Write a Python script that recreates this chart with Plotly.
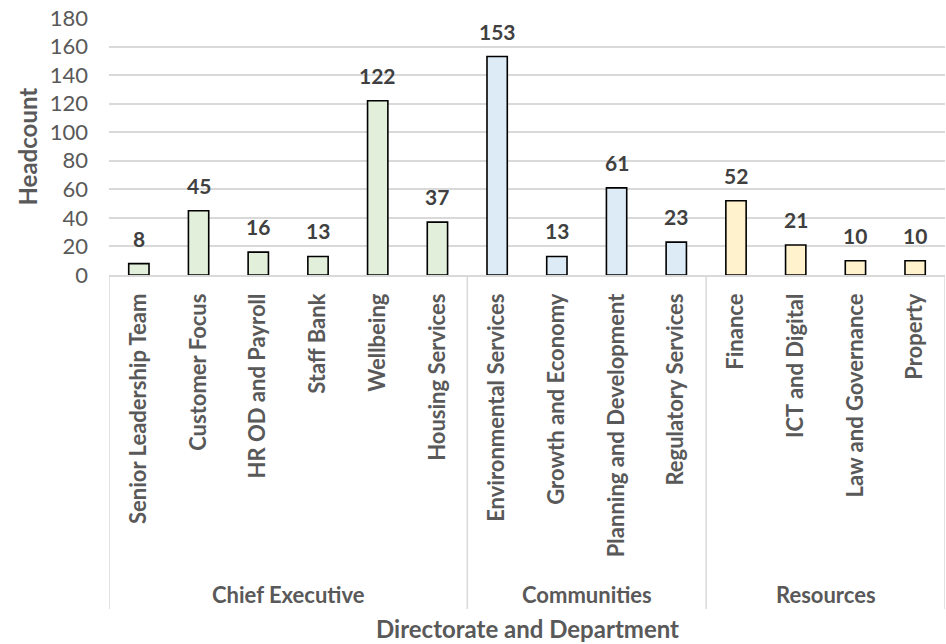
import plotly.graph_objects as go

# Headcount by department, grouped by directorate
departments = [
    "Senior Leadership Team", "Customer Focus", "HR OD and Payroll", "Staff Bank",
    "Wellbeing", "Housing Services",
    "Environmental Services", "Growth and Economy", "Planning and Development",
    "Regulatory Services",
    "Finance", "ICT and Digital", "Law and Governance", "Property",
]
directorates = ["Chief Executive", "Communities", "Resources"]
directorate_sizes = [6, 4, 4]
headcount = [8, 45, 16, 13, 122, 37, 153, 13, 61, 23, 52, 21, 10, 10]
directorate_colors = ["#E2EFDA", "#DDEBF7", "#FFF2CC"]

FONT = "Lato"
GRID = "#D9D9D9"
TEXT = "#595959"

# colour each bar by its directorate
bar_colors = []
for size, col in zip(directorate_sizes, directorate_colors):
    bar_colors += [col] * size

xpos = list(range(len(departments)))

fig = go.Figure(
    go.Bar(
        x=xpos,
        y=headcount,
        width=0.34,
        marker=dict(color=bar_colors, line=dict(color="#000000", width=1.6)),
        showlegend=False,
        hoverinfo="x+y",
    )
)

annotations = []
# value labels above the bars
for x, v in zip(xpos, headcount):
    annotations.append(dict(
        x=x, y=v, xref="x", yref="y", text=f"<b>{v}</b>", showarrow=False,
        yanchor="bottom", yshift=11,
        font=dict(family=FONT, size=21, color="#404040"),
    ))

# directorate group labels and dividers below the axis
shapes = []
plot_h = 257.0
div_bottom = -(609 - 275) / plot_h
start = 0
bounds = [-0.5]
for name, size in zip(directorates, directorate_sizes):
    centre = start + (size - 1) / 2
    annotations.append(dict(
        x=centre, y=-(594 - 275) / plot_h, xref="x", yref="paper",
        text=f"<b>{name}</b>", showarrow=False, yanchor="middle",
        font=dict(family=FONT, size=22, color=TEXT),
    ))
    start += size
    bounds.append(start - 0.5)

for b in bounds:
    shapes.append(dict(
        type="line", xref="x", yref="paper", x0=b, x1=b, y0=0, y1=div_bottom,
        line=dict(color=GRID, width=1.5),
    ))

# axis titles
annotations.append(dict(
    x=0.5, y=-(628 - 275) / plot_h, xref="paper", yref="paper",
    text="<b>Directorate and Department</b>", showarrow=False, yanchor="middle",
    font=dict(family=FONT, size=24, color=TEXT),
))
annotations.append(dict(
    x=-(109 - 27) / 836, y=0.5, xref="paper", yref="paper",
    text="<b>Headcount</b>", showarrow=False, textangle=-90,
    xanchor="center", yanchor="middle",
    font=dict(family=FONT, size=24, color=TEXT),
))

fig.update_layout(
    width=946, height=644,
    margin=dict(l=109, r=1, t=18, b=369),
    paper_bgcolor="white", plot_bgcolor="white",
    annotations=annotations, shapes=shapes,
    font=dict(family=FONT, color=TEXT),
)

fig.update_xaxes(
    range=[-0.5, len(departments) - 0.5],
    tickmode="array", tickvals=xpos,
    ticktext=[f"<b>{d}</b>" for d in departments],
    tickangle=-90, tickfont=dict(family=FONT, size=22, color=TEXT),
    showgrid=False, zeroline=False,
    showline=True, linecolor=GRID, linewidth=1.5,
    ticks="", ticklabelstandoff=8,
)
fig.update_yaxes(
    range=[0, 180], dtick=20,
    showgrid=True, gridcolor=GRID, gridwidth=1.5,
    zeroline=False, showline=False,
    tickfont=dict(family=FONT, size=22, color=TEXT),
    ticks="", ticklabelstandoff=20,
)

fig.write_html("out.html")
